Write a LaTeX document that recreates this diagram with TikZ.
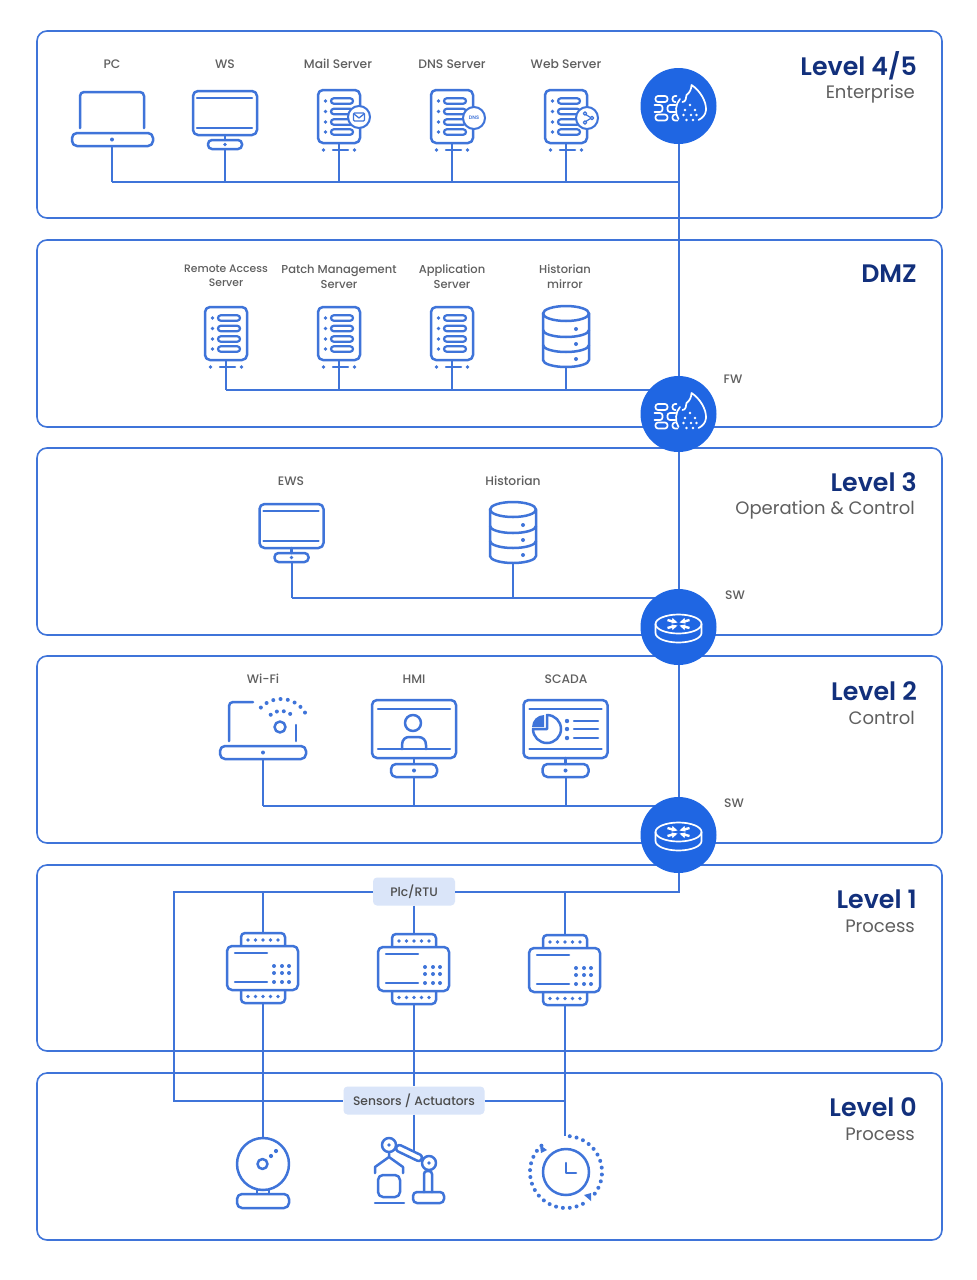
\documentclass[tikz,border=0pt]{standalone}
\usepackage{fontspec}
\setmainfont{Poppins Medium}[BoldFont={Poppins SemiBold}]
\newfontfamily\subfont{Poppins}
\usetikzlibrary{calc}

\definecolor{lineblue}{HTML}{3F74D9}
\definecolor{discblue}{HTML}{1F66E3}
\definecolor{titlenavy}{HTML}{12307C}
\definecolor{textgray}{HTML}{5F5F5F}
\definecolor{tagblue}{HTML}{DAE5F9}

\tikzset{
  panel/.style={draw=lineblue,line width=1.6pt,rounded corners=10pt,fill=white},
  link/.style={draw=lineblue,line width=2pt},
  glyph/.style={draw=lineblue,line width=2.5pt,line cap=round,line join=round},
  whiteglyph/.style={draw=white,line width=1.7pt,line cap=round,line join=round},
  dotfill/.style={fill=lineblue,draw=none},
  disc/.style={circle,fill=discblue,minimum size=76pt,inner sep=0pt},
  badge/.style={circle,draw=lineblue,line width=2pt,fill=white,minimum size=22pt,inner sep=0pt},
  devlabel/.style={text=textgray,font=\fontsize{12.3}{14}\selectfont,align=center,inner sep=0pt},
  smalllabel/.style={text=textgray,font=\fontsize{11.5}{15}\selectfont,align=center,inner sep=0pt},
  leveltitle/.style={text=titlenavy,font=\fontsize{25.3}{28}\selectfont\bfseries,anchor=east,inner sep=0pt},
  levelsub/.style={text=textgray,font=\subfont\fontsize{18}{20}\selectfont,anchor=east,inner sep=0pt},
  tag/.style={fill=tagblue,rounded corners=4pt,text=black!70,font=\fontsize{12.3}{14}\selectfont,inner sep=0pt,minimum height=28pt},
  % laptop, origin at top centre of the screen
  laptop/.pic={
    \draw[glyph,rounded corners=4pt] (-32,36) -- (-32,0) -- (32,0) -- (32,36);
    \draw[glyph,rounded corners=5pt] (-40,41) rectangle (41,54);
    \fill[dotfill] (0,47.5) circle (2);
    \coordinate (-out) at (0,54);
  },
  % monitor, origin at top centre of the screen
  monitor/.pic={
    \draw[glyph,rounded corners=5pt] (-32,0) rectangle (32,44);
    \draw[glyph] (-28,7) -- (27,7) (-28,37) -- (27,37) (0,44) -- (0,49);
    \draw[glyph,rounded corners=4pt] (-17,49) rectangle (17,58);
    \fill[dotfill] (0,53.5) circle (1.8);
    \coordinate (-out) at (0,58);
  },
  % big monitor of level 2
  bigscreen/.pic={
    \draw[glyph,rounded corners=5pt] (-42,0) rectangle (42,58);
    \draw[glyph] (-36,9) -- (36,9) (-36,49) -- (36,49) (0,58) -- (0,64);
    \draw[glyph,rounded corners=5pt] (-23,64) rectangle (23,77);
    \fill[dotfill] (0,70.5) circle (2);
    \coordinate (-out) at (0,77);
  },
  % server rack, origin at top centre
  server/.pic={
    \draw[glyph,rounded corners=5pt] (-21,0) rectangle (21,53);
    \foreach \yy in {11,21.5,32,42}{
      \draw[glyph,line width=2.2pt,rounded corners=2.7pt] (-8,\yy-2.7) rectangle (14,\yy+2.7);
      \fill[dotfill] (-13.5,\yy) circle (1.8);
    }
    \draw[glyph] (-6,60) -- (9,60);
    \fill[dotfill] (-15.5,60) circle (1.8) (15.5,60) circle (1.8);
    \coordinate (-out) at (0,53);
  },
  % database drum, origin at top centre
  drum/.pic={
    \draw[glyph] (0,7.5) ellipse (23 and 7.5);
    \draw[glyph] (-23,7.5) -- (-23,54) arc[start angle=180,end angle=0,x radius=23,y radius=7] -- (23,7.5);
    \foreach \yy in {24,39}{
      \draw[glyph] (-23,\yy) arc[start angle=180,end angle=0,x radius=23,y radius=7];
    }
    \foreach \yy in {23,38,53}{
      \fill[dotfill] (10,\yy) circle (2);
    }
    \coordinate (-out) at (0,61);
  },
  % PLC, origin at top centre
  plcbox/.pic={
    \draw[glyph,fill=white,rounded corners=4pt] (-22,13) -- (-22,0) -- (22,0) -- (22,13);
    \draw[glyph,fill=white,rounded corners=4pt] (-22,57) -- (-22,70) -- (22,70) -- (22,57);
    \draw[glyph,fill=white,rounded corners=5pt] (-36,13) rectangle (35,57);
    \draw[glyph] (-28,20) -- (4,20) (-28,49) -- (4,49);
    \foreach \xx in {-15,-7.5,0,7.5,15}{
      \fill[dotfill] (\xx,7) circle (1.9) (\xx,63.5) circle (1.9);
    }
    \foreach \xx in {11,19,26}{
      \foreach \yy in {33,40,49}{
        \fill[dotfill] (\xx,\yy) circle (2);
      }
    }
    \coordinate (-in) at (0,0);
    \coordinate (-out) at (0,70);
  },
  % firewall glyph, origin at disc centre
  wallfire/.pic={
    \draw[whiteglyph,rounded corners=2.5pt] (-23,-10) rectangle (-11,-4);
    \draw[whiteglyph,rounded corners=2.5pt] (-2,-10) -- (-6,-10) -- (-6,-4) -- (-3,-4);
    \draw[whiteglyph,rounded corners=2.5pt] (-24,-1) -- (-16,-1) -- (-16,6) -- (-24,6);
    \draw[whiteglyph,rounded corners=2.5pt] (-3,-1) -- (-11,-1) -- (-11,6) -- (-3,6);
    \draw[whiteglyph,rounded corners=2.5pt] (-23,8.5) rectangle (-11,14.5);
    \draw[whiteglyph,rounded corners=2.5pt] (-3,8.5) -- (-6,8.5) -- (-6,14.5) -- (-1,14.5);
    \draw[whiteglyph] (0,13) .. controls (-4,7) and (-3,-2) .. (1.5,-7);
    \draw[whiteglyph] (4,-4) .. controls (7,-4) and (8,-8) .. (8,-11)
      .. controls (11,-13) and (13,-17) .. (13,-21)
      .. controls (21,-16) and (28,-5) .. (27.5,4) .. controls (27,9) and (24,12) .. (20,14);
    \foreach \xx/\yy in {11.5/-1,6.5/4,16.5/4,5/9,12.5/9,18/9,8/14,14.5/14}{
      \fill[white] (\xx,\yy) circle (1.3);
    }
  },
  % switch glyph, origin at disc centre
  hubglyph/.pic={
    \draw[whiteglyph] (0,-3) ellipse (23 and 9.5);
    \draw[whiteglyph] (-23,-3) -- (-23,6) arc[start angle=180,end angle=0,x radius=23,y radius=9.5] -- (23,-3);
    \draw[whiteglyph,line width=2.4pt,line cap=butt] (-11,-7) -- (-4,-5) (11,-7) -- (4,-5) (-11,1) -- (-4,-1) (11,1) -- (4,-1);
    \fill[white] (-6,-9) -- (-1,-4.5) -- (-7,-3.5) -- cycle (6,-9) -- (1,-4.5) -- (7,-3.5) -- cycle
      (-6,3) -- (-1,-1.5) -- (-7,-2.5) -- cycle (6,3) -- (1,-1.5) -- (7,-2.5) -- cycle;
  },
}

\begin{document}
\begin{tikzpicture}[x=1pt,y=-1pt]
  \useasboundingbox (0,0) rectangle (977,1280);

  % Panels
  \foreach \nm/\ytop/\ybot in {panelent/31/218,paneldmz/240/427,panelops/448/635,panelctl/656/843,panelpro/865/1051,panelfld/1073/1240}{
    \draw[panel] (37,\ytop) rectangle (942,\ybot);
  }

  % Level titles
  \node[leveltitle] (tent) at (917,66) {Level 4/5};
  \node[levelsub]   (sent) at (915,94) {Enterprise};
  \node[leveltitle] (tdmz) at (917,274) {DMZ};
  \node[leveltitle] (tops) at (917,482) {Level 3};
  \node[levelsub]   (sops) at (915,510) {Operation \& Control};
  \node[leveltitle] (tctl) at (917,691) {Level 2};
  \node[levelsub]   (sctl) at (915,718) {Control};
  \node[leveltitle] (tpro) at (917,899) {Level 1};
  \node[levelsub]   (spro) at (915,926) {Process};
  \node[leveltitle] (tfld) at (917,1107) {Level 0};
  \node[levelsub]   (sfld) at (915,1134) {Process};

  % Device labels
  \foreach \nm/\xx/\yy/\txt in {lpc/112/64/PC,lws/225/64/WS,lmail/338/64/Mail Server,ldns/452/64/DNS Server,lweb/566/64/Web Server,lews/291/481/EWS,lhist/513/481/Historian,lwifi/263/679/Wi-Fi,lhmi/414/679/HMI,lscada/566/679/SCADA,lfw/733/379/FW,lswa/735/595/SW,lswb/734/803/SW}{
    \node[devlabel] (\nm) at (\xx,\yy) {\txt};
  }
  \node[smalllabel,font=\fontsize{10.8}{14}\selectfont] (lremote) at (226,276) {Remote Access\\Server};
  \node[smalllabel] (lpatch) at (339,277) {Patch Management\\Server};
  \node[smalllabel] (lapp) at (452,277) {Application\\Server};
  \node[smalllabel] (lmirror) at (565,277) {Historian\\mirror};

  % Connector ends on the trunk
  \coordinate (busent) at (678.5,182);
  \coordinate (busdmz) at (678.5,390);
  \coordinate (busops) at (678.5,598);
  \coordinate (busctl) at (678.5,806);

  % Icons
  \pic (pc) at (112,92) {laptop};
  \pic (ws) at (225,91) {monitor};
  \pic (mail) at (339,90) {server};
  \pic (dns) at (452,90) {server};
  \pic (web) at (566,90) {server};
  \pic (remote) at (226,307) {server};
  \pic (patch) at (339,307) {server};
  \pic (app) at (452,307) {server};
  \pic (mirror) at (566,306) {drum};
  \pic (ews) at (291.5,504) {monitor};
  \pic (hist) at (513,502) {drum};
  \pic (hmi) at (414,700) {bigscreen};
  \pic (scada) at (565.5,700) {bigscreen};
  \pic (plca) at (263,933) {plcbox};
  \pic (plcb) at (414,934) {plcbox};
  \pic (plcc) at (565,935) {plcbox};

  % Connectors
  \foreach \nm in {pc,ws,mail,dns,web}{
    \draw[link] (\nm-out) -- (\nm-out |- busent);
  }
  \draw[link] (pc-out |- busent) -- (busent);
  \foreach \nm in {remote,patch,app,mirror}{
    \draw[link] (\nm-out) -- (\nm-out |- busdmz);
  }
  \draw[link] (remote-out |- busdmz) -- (busdmz);
  \foreach \nm in {ews,hist}{
    \draw[link] (\nm-out) -- (\nm-out |- busops);
  }
  \draw[link] (ews-out |- busops) -- (busops);

  % Wi-Fi laptop
  \coordinate (wifi-out) at (263,759);
  \draw[glyph,rounded corners=4pt] (229,741) -- (229,702) -- (253,702);
  \draw[glyph] (296,725) -- (296,741);
  \draw[glyph,rounded corners=5pt] (220,746) rectangle (306,759);
  \fill[dotfill] (263,752.5) circle (2);
  \draw[glyph] (280,727) circle (5.5);
  \foreach \ang in {-136,-121,...,-30}{
    \fill[dotfill] ($(281,727)+(\ang:28)$) circle (2);
  }
  \foreach \ang in {-130,-105,-80,-55}{
    \fill[dotfill] ($(281,727)+(\ang:16)$) circle (2);
  }
  \foreach \nm in {wifi,hmi,scada}{
    \draw[link] (\nm-out) -- (\nm-out |- busctl);
  }
  \draw[link] (wifi-out |- busctl) -- (busctl);

  % HMI person
  \draw[glyph] (413,723) circle (8);
  \draw[glyph] (402,749) -- (402,745) .. controls (402,739) and (406,737) .. (409,737) -- (418,737) .. controls (423,737) and (426,740) .. (426,745) -- (426,749);

  % SCADA pie and list
  \draw[glyph] (547,715) arc[start angle=-90,end angle=180,radius=14] -- (547,729) -- cycle;
  \fill[lineblue] (532,727) arc[start angle=180,end angle=270,radius=12] -- (544,727) -- cycle;
  \foreach \yy in {721,729,738}{
    \fill[dotfill] (567,\yy) circle (2.2);
    \draw[glyph] (574,\yy) -- (598,\yy);
  }

  % Discs
  \node[disc] (fwtop) at (678.5,106) {};
  \node[disc] (fwdmz) at (678.5,414) {};
  \node[disc] (swops) at (678.5,627) {};
  \node[disc] (swctl) at (678.5,835) {};
  \pic at (fwtop) {wallfire};
  \pic at (fwdmz) {wallfire};
  \pic at (swops) {hubglyph};
  \pic at (swctl) {hubglyph};
  \draw[link] (fwtop) -- (fwdmz);
  \draw[link] (fwdmz) -- (swops);
  \draw[link] (swops) -- (swctl);

  % Field bus and tags
  \node[tag,minimum width=82pt] (tagplc) at (414,891.5) {Plc/RTU};
  \node[tag,minimum width=141pt] (tagsens) at (414,1100.5) {Sensors / Actuators};
  \coordinate (cnrtop) at (174,891.5);
  \coordinate (cnrbot) at (174,1100.5);
  \coordinate (camtop) at (263,1138);
  \coordinate (robtop) at (414,1152);
  \coordinate (clktop) at (565,1136);
  \draw[link] (swctl) |- (tagplc);
  \draw[link] (tagplc) -- (cnrtop) -- (cnrbot) -- (tagsens);
  \draw[link] (tagsens) -- (clktop |- tagsens);
  \draw[link] (plca-in |- cnrtop) -- (plca-in);
  \draw[link] (tagplc) -- (plcb-in);
  \draw[link] (plcc-in |- cnrtop) -- (plcc-in);
  \draw[link] (plca-out) -- (camtop);
  \draw[link] (plcb-out) -- (tagsens);
  \draw[link] (tagsens) -- (robtop);
  \draw[link] (plcc-out) -- (clktop);

  % Server badges
  \node[badge] (bmail) at (359,117) {};
  \draw[glyph,line width=1.3pt,rounded corners=1pt] (353.5,113) rectangle (364.5,121);
  \draw[glyph,line width=1.3pt] (354,114) -- (359,118) -- (364,114);
  \node[badge,text=lineblue,font=\fontsize{5}{6}\selectfont\bfseries] (bdns) at (474,118) {DNS};
  \node[badge] (bweb) at (587,118) {};
  \draw[glyph,line width=1.2pt] (585,113.5) circle (1.7) (585,122.5) circle (1.7) (592,118) circle (1.7)
    (586.5,115) -- (590.5,117.5) (586.5,121) -- (590.5,118.5);

  % Camera
  \draw[glyph] (263,1164) circle (26);
  \draw[glyph] (262.5,1164) circle (5);
  \fill[dotfill] (271,1156) circle (2.1) (276,1151) circle (2.1);
  \draw[glyph] (257,1189) -- (257,1194) (269,1189) -- (269,1194);
  \draw[glyph,rounded corners=5pt] (237,1194) rectangle (289,1208);

  % Robot arm
  \draw[glyph] (389,1145) circle (7) (429,1163) circle (7);
  \fill[dotfill] (389,1145) circle (1.8) (429,1163) circle (1.8);
  \draw[glyph,rounded corners=3pt] (398,1144) -- (423,1156) -- (420,1162) -- (395,1150) -- cycle;
  \draw[glyph,rounded corners=3pt] (424,1192) -- (424,1171) -- (432,1171) -- (432,1192);
  \draw[glyph,rounded corners=4pt] (413,1192) rectangle (444,1203);
  \draw[glyph] (389,1152) -- (389,1157) (375,1173) -- (375,1167) -- (389,1157) -- (403,1167) -- (403,1173);
  \draw[glyph,rounded corners=5pt] (378,1175) rectangle (400,1197);
  \draw[glyph] (375,1203) -- (404,1203);

  % Clock
  \draw[glyph] (566,1172) circle (23);
  \draw[glyph] (566,1163) -- (566,1173) -- (576,1173);
  \foreach \ang in {-84,-73,...,40}{
    \fill[dotfill] ($(566,1172)+(\ang:36)$) circle (2);
  }
  \foreach \ang in {62,73,...,228}{
    \fill[dotfill] ($(566,1172)+(\ang:36)$) circle (2);
  }
  \fill[lineblue] (540,1145) -- (547,1150) -- (541,1153) -- cycle (591,1201) -- (584,1195) -- (591,1193) -- cycle;
\end{tikzpicture}
\end{document}
